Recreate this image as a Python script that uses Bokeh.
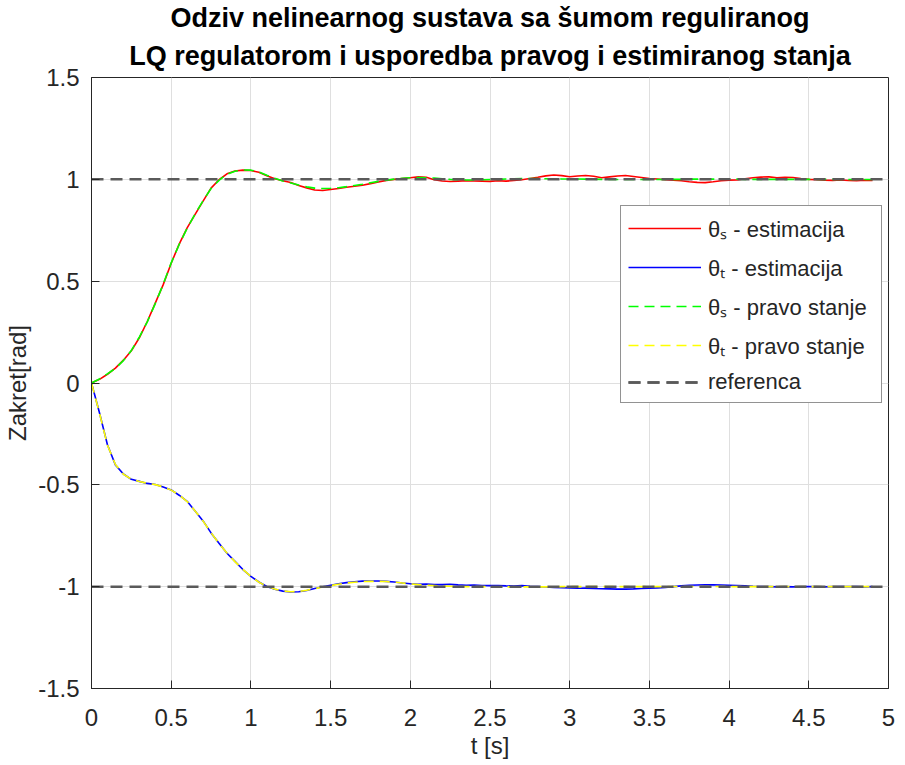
import numpy as np
from bokeh.plotting import figure
from bokeh.models import Title, Legend, LegendItem, FixedTicker, Range1d
from bokeh.embed import file_html
from bokeh.resources import INLINE

# time grid (s)
t = np.round(np.arange(0, 4.95, 0.05), 2)

theta_s_est = [0.000, 0.018, 0.043, 0.073, 0.112, 0.158, 0.222, 0.302, 0.392, 0.483,
               0.588, 0.682, 0.762, 0.828, 0.893, 0.957, 0.998, 1.027, 1.041, 1.045,
               1.043, 1.035, 1.018, 1.003, 0.993, 0.984, 0.970, 0.958, 0.948, 0.945,
               0.950, 0.955, 0.961, 0.966, 0.971, 0.979, 0.987, 0.995, 1.000, 1.004,
               1.008, 1.012, 1.010, 0.998, 0.992, 0.989, 0.991, 0.993, 0.992, 0.991,
               0.990, 0.993, 0.991, 0.994, 0.998, 1.004, 1.010, 1.017, 1.021, 1.018,
               1.013, 1.016, 1.019, 1.015, 1.008, 1.012, 1.016, 1.019, 1.014, 1.009,
               1.004, 1.002, 0.998, 0.996, 0.993, 0.988, 0.985, 0.984, 0.988, 0.993,
               0.996, 0.997, 1.003, 1.008, 1.011, 1.012, 1.008, 1.010, 1.009, 1.004,
               1.000, 0.998, 0.996, 0.995, 0.997, 0.994, 0.993, 0.996, 0.994]

theta_t_est = [0.000, -0.146, -0.303, -0.402, -0.447, -0.473, -0.483, -0.493, -0.498, -0.511,
               -0.525, -0.551, -0.581, -0.629, -0.677, -0.736, -0.787, -0.836, -0.876, -0.916,
               -0.949, -0.977, -0.999, -1.013, -1.022, -1.026, -1.025, -1.019, -1.009, -1.000,
               -0.993, -0.986, -0.980, -0.976, -0.973, -0.972, -0.972, -0.974, -0.977, -0.982,
               -0.986, -0.988, -0.987, -0.989, -0.990, -0.988, -0.991, -0.993, -0.992, -0.994,
               -0.995, -0.994, -0.996, -0.997, -0.995, -0.998, -1.000, -1.002, -1.004, -1.005,
               -1.006, -1.008, -1.007, -1.009, -1.010, -1.011, -1.012, -1.012, -1.011, -1.009,
               -1.008, -1.006, -1.004, -1.000, -0.996, -0.993, -0.992, -0.991, -0.991, -0.992,
               -0.993, -0.994, -0.996, -0.998, -0.999, -1.000, -1.001, -1.000, -1.001, -1.000,
               -0.999, -1.000, -1.001, -1.000, -1.000, -0.999, -1.000, -1.001, -1.000]

theta_s_true = [0.000, 0.020, 0.045, 0.072, 0.110, 0.160, 0.225, 0.300, 0.390, 0.485,
                0.590, 0.680, 0.760, 0.830, 0.895, 0.955, 0.995, 1.025, 1.040, 1.046,
                1.045, 1.036, 1.020, 1.005, 0.992, 0.982, 0.972, 0.963, 0.957, 0.955,
                0.956, 0.959, 0.964, 0.970, 0.976, 0.983, 0.990, 0.996, 1.001, 1.005,
                1.008, 1.009, 1.008, 1.006, 1.003, 1.000, 0.998, 0.997, 0.997, 0.998,
                0.999, 1.000, 1.002, 1.003, 1.004, 1.004, 1.004, 1.003, 1.003, 1.002,
                1.002, 1.002, 1.001, 1.001, 1.000, 1.000, 0.999, 0.999, 0.999, 0.999,
                0.999, 0.999, 1.000, 1.000, 1.000, 1.001, 1.001, 1.001, 1.001, 1.001,
                1.001, 1.001, 1.000, 1.000, 1.000, 1.000, 1.000, 1.000, 1.000, 1.000,
                1.000, 1.000, 1.000, 1.000, 0.999, 0.999, 0.999, 0.999, 0.999]

theta_t_true = [0.000, -0.148, -0.305, -0.400, -0.448, -0.472, -0.484, -0.492, -0.499, -0.510,
                -0.526, -0.550, -0.582, -0.628, -0.678, -0.735, -0.788, -0.835, -0.877, -0.915,
                -0.950, -0.978, -0.998, -1.012, -1.021, -1.025, -1.024, -1.018, -1.010, -1.002,
                -0.995, -0.988, -0.982, -0.978, -0.975, -0.974, -0.974, -0.975, -0.978, -0.982,
                -0.986, -0.990, -0.993, -0.995, -0.997, -0.998, -0.999, -1.000, -1.000, -1.000,
                -1.000, -1.001, -1.001, -1.001, -1.001, -1.001, -1.001, -1.001, -1.001, -1.000,
                -1.000, -1.000, -1.000, -1.000, -1.000, -1.000, -1.000, -1.000, -1.000, -1.000,
                -1.000, -1.000, -1.000, -0.999, -0.999, -0.999, -0.999, -0.999, -0.999, -0.999,
                -1.000, -1.000, -1.000, -1.000, -1.000, -1.000, -1.000, -1.000, -1.000, -1.000,
                -1.000, -1.000, -1.000, -1.000, -1.000, -1.000, -1.000, -1.000, -1.000]

ref_t = [0, 5]
ref_s = [1, 1]
ref_t_val = [-1, -1]

x_ticks = [0, 0.5, 1, 1.5, 2, 2.5, 3, 3.5, 4, 4.5, 5]
y_ticks = [-1.5, -1, -0.5, 0, 0.5, 1, 1.5]
y_tick_labels = ["-1.5", "-1", "-0.5", "0", "0.5", "1", "1.5"]
x_tick_labels = ["0", "0.5", "1", "1.5", "2", "2.5", "3", "3.5", "4", "4.5", "5"]

title1 = "Odziv nelinearnog sustava sa šumom reguliranog"
title2 = "LQ regulatorom i usporedba pravog i estimiranog stanja"

labels = ["θₛ - estimacija", "θₜ - estimacija", "θₛ - pravo stanje",
          "θₜ - pravo stanje", "referenca"]

FONT = "Liberation Sans"
TXT = "#262626"

p = figure(width=895, height=761, output_backend="svg", toolbar_location=None,
           x_range=Range1d(0, 5), y_range=Range1d(-1.5, 1.5),
           title=title1, min_border_left=91, min_border_right=7,
           min_border_top=74, min_border_bottom=10)

p.title.text_font = FONT
p.title.text_font_size = "27px"
p.title.text_font_style = "bold"
p.title.text_color = "#000000"
p.title.align = "center"
p.title.standoff = -6
p.title.padding = 3
sub = Title(text=title2, align="center", text_font=FONT, text_font_size="27px",
            text_font_style="bold", text_color="#000000", standoff=13)
p.add_layout(sub, "above")

for ax in (p.xaxis[0], p.yaxis[0]):
    ax.major_label_text_font = FONT
    ax.major_label_text_font_size = "24px"
    ax.major_label_text_color = TXT
    ax.axis_label_text_font = FONT
    ax.axis_label_text_font_size = "24px"
    ax.axis_label_text_font_style = "normal"
    ax.axis_label_text_color = TXT
    ax.axis_line_color = TXT
    ax.major_tick_line_color = TXT
    ax.major_tick_in = 8
    ax.major_tick_out = 0
    ax.minor_tick_line_color = None

p.xaxis.ticker = FixedTicker(ticks=x_ticks)
p.yaxis.ticker = FixedTicker(ticks=y_ticks)
p.xaxis.major_label_overrides = dict(zip(x_ticks, x_tick_labels))
p.yaxis.major_label_overrides = dict(zip(y_ticks, y_tick_labels))
p.xaxis.axis_label = "t [s]"
p.yaxis.axis_label = "Zakret[rad]"
p.xaxis.major_label_standoff = 20
p.yaxis.major_label_standoff = 12
p.xaxis.axis_label_standoff = 3
p.yaxis.axis_label_standoff = 4

p.grid.grid_line_color = "#dfdfdf"
p.grid.grid_line_width = 1
p.outline_line_color = TXT
p.outline_line_width = 1
p.background_fill_color = "white"
p.border_fill_color = "white"

r1 = p.line(t, theta_s_est, line_color="#ff0000", line_width=1.6)
r2 = p.line(t, theta_t_est, line_color="#0000ff", line_width=1.6)
r3 = p.line(t, theta_s_true, line_color="#00ff00", line_width=1.6, line_dash="10 6")
r4 = p.line(t, theta_t_true, line_color="#ffff00", line_width=1.6, line_dash="10 6")
r5 = p.line(ref_t, ref_s, line_color="#5a5a5a", line_width=2.5, line_dash="12 7")
r6 = p.line(ref_t, ref_t_val, line_color="#5a5a5a", line_width=2.5, line_dash="12 7")

legend = Legend(items=[LegendItem(label=labels[0], renderers=[r1]),
                       LegendItem(label=labels[1], renderers=[r2]),
                       LegendItem(label=labels[2], renderers=[r3]),
                       LegendItem(label=labels[3], renderers=[r4]),
                       LegendItem(label=labels[4], renderers=[r5, r6])],
                location=(529, 285))
legend.label_text_font = FONT
legend.label_text_font_size = "22px"
legend.label_text_color = TXT
legend.glyph_width = 73
legend.glyph_height = 26
legend.label_height = 26
legend.label_width = 166
legend.label_standoff = 7
legend.spacing = 9
legend.padding = 7
legend.margin = 0
legend.border_line_color = TXT
legend.border_line_width = 1
legend.background_fill_color = "white"
legend.background_fill_alpha = 1
p.add_layout(legend, "center")

open("out.html", "w").write(file_html(p, INLINE))
